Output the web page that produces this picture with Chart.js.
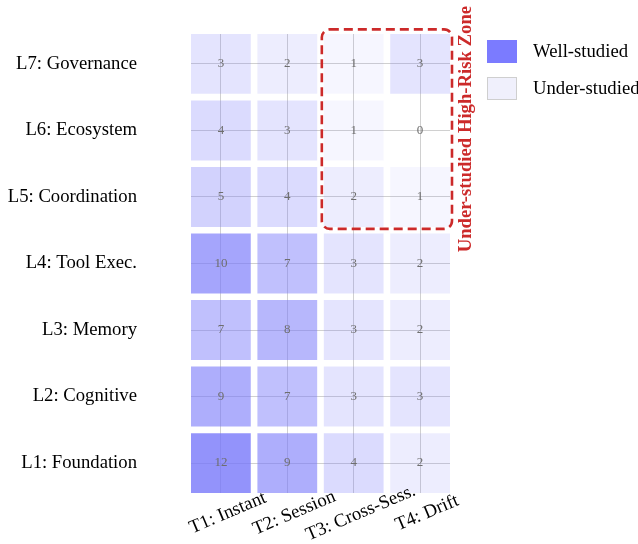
<!DOCTYPE html>
<html>
<head>
<meta charset="utf-8">
<script src="https://cdn.jsdelivr.net/npm/chart.js@4.4.1/dist/chart.umd.min.js"></script>
<style>
  html, body { margin: 0; padding: 0; background: #fff; }
  #wrap { width: 638px; height: 544px; }
</style>
</head>
<body>
<div id="wrap"><canvas id="chart" width="638" height="544"></canvas></div>
<script>
const timescales = ['T1: Instant', 'T2: Session', 'T3: Cross-Sess.', 'T4: Drift'];
// bottom to top
const layers = ['L1: Foundation', 'L2: Cognitive', 'L3: Memory', 'L4: Tool Exec.',
  'L5: Coordination', 'L6: Ecosystem', 'L7: Governance'];

// paper counts per layer, one value per timescale
const countsL1 = [12, 9, 4, 2];
const countsL2 = [9, 7, 3, 3];
const countsL3 = [7, 8, 3, 2];
const countsL4 = [10, 7, 3, 2];
const countsL5 = [5, 4, 2, 1];
const countsL6 = [4, 3, 1, 0];
const countsL7 = [3, 2, 1, 3];
const counts = [countsL1, countsL2, countsL3, countsL4, countsL5, countsL6, countsL7];

const legendLabels = ['Well-studied', 'Under-studied'];
const zoneLabel = 'Under-studied High-Risk Zone';
const zoneCols = [2, 3];   // T3..T4
const zoneRows = [4, 6];   // L5..L7

const SERIF = '"Liberation Serif", "DejaVu Serif", serif';
const FS = 18.7;
const HALF = 0.45;

function cellColor(v) {
  if (!v) return 'rgba(255,255,255,0)';
  return 'rgba(120,120,250,' + (v / 15).toFixed(3) + ')';
}

const datasets = counts.map((row, r) => ({
  label: layers[r],
  data: row.map((v, c) => ({ x: c, y: [r - HALF, r + HALF], v: v })),
  backgroundColor: row.map(cellColor),
  borderWidth: 0,
  grouped: false,
  barPercentage: 0.9,
  categoryPercentage: 1
}));

const overlay = {
  id: 'overlay',
  afterDatasetsDraw(chart) {
    const ctx = chart.ctx;
    const xs = chart.scales.x, ys = chart.scales.y;
    ctx.save();
    ctx.font = '13px ' + SERIF;
    ctx.fillStyle = '#6e6e6e';
    ctx.textAlign = 'center';
    ctx.textBaseline = 'middle';
    counts.forEach((row, r) => row.forEach((v, c) => {
      ctx.fillText(String(v), xs.getPixelForValue(c), ys.getPixelForValue(r));
    }));
    ctx.restore();
  },
  afterDraw(chart) {
    const ctx = chart.ctx;
    const xs = chart.scales.x, ys = chart.scales.y;
    const area = chart.chartArea;
    ctx.save();

    // x tick labels, rotated
    ctx.font = FS + 'px ' + SERIF;
    ctx.fillStyle = '#000';
    ctx.textAlign = 'center';
    ctx.textBaseline = 'middle';
    timescales.forEach((t, i) => {
      ctx.save();
      ctx.translate(xs.getPixelForValue(i) + 7, area.bottom + 20);
      ctx.rotate(-23 * Math.PI / 180);
      ctx.fillText(t, 0, 0);
      ctx.restore();
    });

    // high-risk zone box
    const x0 = xs.getPixelForValue(zoneCols[0] - 0.48);
    const x1 = xs.getPixelForValue(zoneCols[1] + 0.48);
    const y0 = ys.getPixelForValue(zoneRows[1] + 0.52);
    const y1 = ys.getPixelForValue(zoneRows[0] - 0.48);
    ctx.strokeStyle = '#cc2a2a';
    ctx.lineWidth = 2.6;
    ctx.setLineDash([9, 5]);
    ctx.beginPath();
    ctx.roundRect(x0, y0, x1 - x0, y1 - y0, 8);
    ctx.stroke();
    ctx.setLineDash([]);

    ctx.save();
    ctx.translate(x1 + 14, (y0 + y1) / 2);
    ctx.rotate(-Math.PI / 2);
    ctx.font = 'bold ' + FS + 'px ' + SERIF;
    ctx.fillStyle = '#cc2a2a';
    ctx.fillText(zoneLabel, 0, 0);
    ctx.restore();

    // legend
    const lx = 487, ly = 40;
    const fills = ['#7b7bff', '#f0f0fc'];
    ctx.font = FS + 'px ' + SERIF;
    ctx.textAlign = 'left';
    legendLabels.forEach((lab, i) => {
      const by = ly + i * 37;
      ctx.fillStyle = fills[i];
      ctx.fillRect(lx, by, 30, 23);
      if (i === 1) {
        ctx.strokeStyle = '#cfcfcf';
        ctx.lineWidth = 1;
        ctx.strokeRect(lx + 0.5, by + 0.5, 29, 22);
      }
      ctx.fillStyle = '#000';
      ctx.fillText(lab, lx + 46, by + 12);
    });
    ctx.restore();
  }
};

new Chart(document.getElementById('chart'), {
  type: 'bar',
  data: { datasets: datasets },
  options: {
    responsive: false,
    animation: false,
    layout: { padding: { left: 0, top: 34, right: 188, bottom: 51 } },
    plugins: { legend: { display: false }, tooltip: { enabled: false } },
    scales: {
      x: {
        type: 'linear',
        offset: false,
        min: -HALF,
        max: timescales.length - 1 + HALF,
        z: 1,
        afterBuildTicks: s => { s.ticks = timescales.map((_, i) => ({ value: i })); },
        afterFit: s => { s.height = 0; s.paddingLeft = 0; s.paddingRight = 0; },
        ticks: { display: false },
        grid: { color: 'rgba(150,150,150,0.45)', lineWidth: 1, drawTicks: false, offset: false },
        border: { display: false }
      },
      y: {
        type: 'linear',
        min: -HALF,
        max: layers.length - 1 + HALF,
        z: 1,
        afterBuildTicks: s => { s.ticks = layers.map((_, i) => ({ value: i })); },
        afterFit: s => { s.width = 191; s.paddingTop = 0; s.paddingBottom = 0; },
        ticks: {
          padding: 54,
          color: '#000',
          font: { family: SERIF, size: FS },
          callback: v => layers[v]
        },
        grid: { color: 'rgba(150,150,150,0.45)', lineWidth: 1, drawTicks: false },
        border: { display: false }
      }
    }
  },
  plugins: [overlay]
});
</script>
</body>
</html>
